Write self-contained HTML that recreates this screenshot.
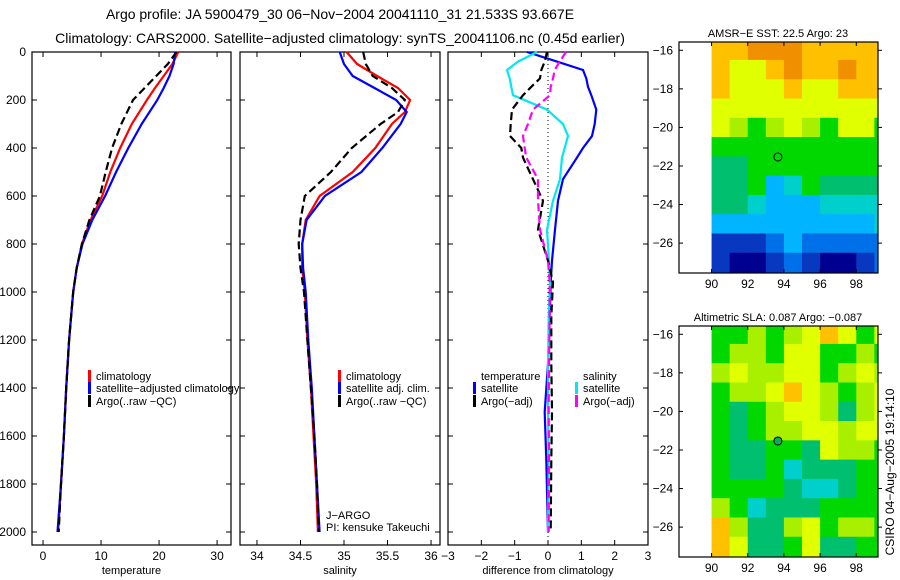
<!DOCTYPE html>
<html><head><meta charset="utf-8">
<style>
html,body{margin:0;padding:0;background:#fff;}
svg{display:block;font-family:"Liberation Sans",sans-serif;}
text{fill:#000;}
</style></head>
<body>
<svg id="fig" width="900" height="580" viewBox="0 0 900 580" xmlns="http://www.w3.org/2000/svg">
<text x="340" y="19" font-size="14" text-anchor="middle">Argo profile: JA 5900479_30 06−Nov−2004 20041110_31 21.533S 93.667E</text>
<text x="340" y="43" font-size="14" text-anchor="middle">Climatology: CARS2000. Satellite−adjusted climatology: synTS_20041106.nc (0.45d earlier)</text>
<text transform="translate(894,472) rotate(-90)" font-size="12" text-anchor="middle">CSIRO 04−Aug−2005 19:14:10</text>
</svg>
<script>
// ---------- profile data ----------
const tDepth = [0,50,100,150,200,300,400,500,600,700,800,900,1000,1200,1400,1600,1800,2000];
const tClim  = [23.3,22.3,20.8,19.3,17.9,15.3,13.3,11.6,10.2,8.2,6.7,5.8,5.2,4.5,4.0,3.6,3.1,2.6];
const tSat   = [22.8,22.5,21.8,20.8,19.7,17.0,14.7,12.6,10.7,8.5,6.8,5.8,5.2,4.5,4.0,3.6,3.1,2.5];
const tArgo  = [23.0,21.5,19.5,17.5,15.5,13.5,11.9,10.8,9.8,8.0,6.7,5.8,5.2,4.5,4.0,3.6,3.1,2.7];
const sDepth = [0,50,100,150,200,250,300,400,500,600,700,800,900,1000,1200,1400,1600,1800,2000];
const sClim  = [35.03,35.15,35.38,35.62,35.76,35.70,35.55,35.36,35.10,34.72,34.56,34.52,34.52,34.55,34.58,34.62,34.65,34.68,34.70];
const sSat   = [34.95,35.00,35.10,35.35,35.60,35.72,35.65,35.44,35.20,34.78,34.57,34.52,34.53,34.56,34.59,34.63,34.66,34.69,34.72];
const sArgo  = [35.22,35.25,35.33,35.55,35.70,35.62,35.42,35.09,34.85,34.55,34.50,34.48,34.50,34.54,34.58,34.62,34.66,34.69,34.71];
const dDepth = [0,40,75,110,145,180,240,300,350,400,440,530,620,740,870,960,1100,1300,1500,1700,2000];
const dTempSat  = [-0.63,0.27,1.05,1.15,1.2,1.3,1.45,1.4,1.32,1.05,0.87,0.45,0.3,0.21,0.12,0.08,0.05,0.0,-0.1,-0.05,0.0];
const dSalSat   = [-0.33,-0.9,-1.23,-1.15,-1.1,-1.05,-0.03,0.45,0.6,0.5,0.42,0.36,0.15,-0.03,0.03,0.06,0.02,0.0,0.0,0.02,0.0];
const dTempArgo = [-0.03,-0.1,-0.2,-0.24,-0.5,-0.75,-1.08,-1.12,-1.14,-0.8,-0.75,-0.45,-0.15,-0.3,0.0,0.15,0.1,0.1,0.12,0.1,0.08];
const dSalArgo  = [0.54,0.35,0.2,0.15,0.08,0.06,-0.45,-0.6,-0.75,-0.7,-0.65,-0.3,-0.3,-0.24,0.0,0.05,0.05,0.03,0.02,0.03,0.02];
const depthTicks = [0,200,400,600,800,1000,1200,1400,1600,1800,2000];
const tTicks = [0,10,20,30];
const sTicks = [34,34.5,35,35.5,36];
const dTicks = [-3,-2,-1,0,1,2,3];
// ---------- map data (rows -16..-27 lat, cols 90..99 lon, colour index) ----------
const mapLats = [-16,-17,-18,-19,-20,-21,-22,-23,-24,-25,-26,-27];
const mapLons = [90,91,92,93,94,95,96,97,98,99];
const sstGrid = [
[9,9,10,10,10,9,9,9,9,9],
[9,8,8,9,10,9,9,10,9,9],
[9,8,8,8,9,8,8,9,9,9],
[8,8,8,8,8,8,8,8,8,8],
[8,7,6,7,8,7,6,8,8,6],
[6,6,6,6,6,6,6,6,6,6],
[5,5,6,6,6,6,6,6,6,6],
[5,5,6,3,4,6,5,5,5,5],
[5,5,4,3,3,3,4,4,4,4],
[3,3,3,3,3,3,3,3,3,4],
[1,1,1,2,3,2,2,2,2,2],
[1,0,0,1,2,1,0,0,1,2]];
const slaGrid = [
[6,6,7,6,7,8,9,8,6,8],
[6,7,7,6,8,8,6,6,7,6],
[7,8,7,7,8,8,6,7,8,7],
[6,7,7,8,9,8,7,6,7,8],
[6,5,6,7,8,8,7,5,7,8],
[6,5,6,7,7,8,8,7,8,8],
[6,5,5,6,6,5,8,7,7,6],
[6,5,5,6,4,5,5,5,6,6],
[6,6,6,6,5,4,4,5,6,6],
[7,6,4,5,5,5,6,6,6,6],
[9,7,5,5,7,8,6,7,7,6],
[9,8,5,5,6,8,5,5,6,6]];
const mapYTicks = [-16,-18,-20,-22,-24,-26];
const mapXTicks = [90,92,94,96,98];
const argoLon = 93.667, argoLat = -21.533;
const palette = ['#000090','#0838c0','#0070e8','#00b4ff','#00d0cc','#00c070','#00d800','#a8f000','#e0ff00','#ffc000','#f09000'];

const NS='http://www.w3.org/2000/svg';
const svg=document.getElementById('fig');
function el(tag,attrs,parent){const e=document.createElementNS(NS,tag);for(const k in attrs)e.setAttribute(k,attrs[k]);(parent||svg).appendChild(e);return e;}

const yTop=52, yPerM=0.24;
function yD(d){return yTop+d*yPerM;}

function panel(name,x0,x1,vmin,vmax,ticks,label,showY){
  const g=el('g',{});
  
  
  const xs=v=>x0+(v-vmin)/(vmax-vmin)*(x1-x0);
  const r=el('rect',{x:x0,y:52,width:x1-x0,height:493,fill:'none',stroke:'#000','stroke-width':1.2},g);
  
  
  ticks.forEach(v=>{
    const x=xs(v);
    el('line',{x1:x,x2:x,y1:545,y2:540,stroke:'#000'},g);
    el('line',{x1:x,x2:x,y1:52,y2:57,stroke:'#000'},g);
    const t=el('text',{x:x,y:560,'font-size':12,'text-anchor':'middle'},g);
    t.textContent=String(v).replace('-','−');
    
    
  });
  depthTicks.forEach(d=>{
    el('line',{x1:x0,x2:x0+5,y1:yD(d),y2:yD(d),stroke:'#000'},g);
    el('line',{x1:x1,x2:x1-5,y1:yD(d),y2:yD(d),stroke:'#000'},g);
    if(showY){const t=el('text',{x:x0-6,y:yD(d)+4,'font-size':12,'text-anchor':'end'},g);t.textContent=d;
      
      }
  });
  const lt=el('text',{x:(x0+x1)/2,y:574,'font-size':11,'text-anchor':'middle'},g);
  lt.textContent=label;
  
  
  return {g,xs};
}
function line(p,depths,vals,color,dash,name){
  const pts=depths.map((d,i)=>p.xs(vals[i]).toFixed(1)+','+yD(d).toFixed(1)).join(' ');
  const a={points:pts,fill:'none',stroke:color,'stroke-width':2.2};
  if(dash)a['stroke-dasharray']=dash;
  const pl=el('polyline',a,p.g);
  
  
}
function legend(p,x,y,color,text,name){
  if(color){el('rect',{x:x,y:y-10,width:3,height:12,fill:color},p.g);}
  const t=el('text',{x:x+8,y:y,'font-size':11},p.g);t.textContent=text;
  
  
}

const p1=panel('temperature-panel',32,231,-1.9,32.4,tTicks,'temperature',true);
line(p1,tDepth,tClim,'#ff0000',null,'temp-climatology-line');
line(p1,tDepth,tSat,'#0000ff',null,'temp-satellite-line');
line(p1,tDepth,tArgo,'#000000','8,4','temp-argo-line');
legend(p1,88,380,'#ff0000','climatology','legend-entry-climatology');
legend(p1,88,392,'#0000ff','satellite−adjusted climatology','legend-entry-satellite');
legend(p1,88,405,'#000000','Argo(..raw −QC)','legend-entry-argo');

const p2=panel('salinity-panel',240,440,33.805,36.103,sTicks,'salinity',false);
line(p2,sDepth,sClim,'#ff0000',null,'sal-climatology-line');
line(p2,sDepth,sSat,'#0000ff',null,'sal-satellite-line');
line(p2,sDepth,sArgo,'#000000','8,4','sal-argo-line');
legend(p2,338,380,'#ff0000','climatology','legend-entry-climatology');
legend(p2,338,392,'#0000ff','satellite adj. clim.','legend-entry-satellite');
legend(p2,338,405,'#000000','Argo(..raw −QC)','legend-entry-argo');
const j1=el('text',{x:326,y:519,'font-size':11},p2.g);j1.textContent='J−ARGO';


const j2=el('text',{x:326,y:531,'font-size':11},p2.g);j2.textContent='PI: kensuke Takeuchi';



const p3=panel('difference-panel',448,648,-3,3,dTicks,'difference from climatology',false);
const zl=el('line',{x1:p3.xs(0),x2:p3.xs(0),y1:52,y2:545,stroke:'#000','stroke-dasharray':'1,3'},p3.g);


line(p3,dDepth,dTempSat,'#0000ff',null,'diff-temp-satellite-line');
line(p3,dDepth,dSalSat,'#00e8f0',null,'diff-sal-satellite-line');
line(p3,dDepth,dTempArgo,'#000000','8,4','diff-temp-argo-line');
line(p3,dDepth,dSalArgo,'#ff00ff','8,4','diff-sal-argo-line');
legend(p3,473,380,null,'temperature','legend-title-temperature');
legend(p3,473,392,'#0000ff','satellite','legend-entry-temp-satellite');
legend(p3,473,405,'#000000','Argo(−adj)','legend-entry-temp-argo');
legend(p3,575,380,null,'salinity','legend-title-salinity');
legend(p3,575,392,'#00e8f0','satellite','legend-entry-sal-satellite');
legend(p3,575,405,'#ff00ff','Argo(−adj)','legend-entry-sal-argo');

// ---------- maps ----------
function map(name,top,grid,title,dotFill){
  const g=el('g',{});
  
  
  const x0=679,x1=878,lonMin=88.2,lonMax=99.2,latTop=-15.57,latBot=-27.55,h=231;
  const xs=lon=>x0+(lon-lonMin)/(lonMax-lonMin)*(x1-x0);
  const ys=lat=>top+(latTop-lat)/(latTop-latBot)*h;
  const cg=el('g',{},g);
  
  
  mapLats.forEach((lat,i)=>{mapLons.forEach((lon,j)=>{
    const la0=Math.min(latTop,lat+0.5),la1=Math.max(latBot,lat-0.5);
    const lo0=lon,lo1=Math.min(lonMax,lon+1);
    const c=el('rect',{x:xs(lo0),y:ys(la0),width:xs(lo1)-xs(lo0)+0.5,height:ys(la1)-ys(la0)+0.5,fill:palette[grid[i][j]]},cg);
    
    
  });});
  const fr=el('rect',{x:x0,y:top,width:x1-x0,height:h,fill:'none',stroke:'#000','stroke-width':1.2},g);
  
  
  mapYTicks.forEach(v=>{
    const y=ys(v);
    el('line',{x1:x0,x2:x0+4,y1:y,y2:y,stroke:'#000'},g);
    el('line',{x1:x1,x2:x1+4,y1:y,y2:y,stroke:'#000'},g);
    const t=el('text',{x:x0-6,y:y+4,'font-size':12,'text-anchor':'end'},g);t.textContent=String(v).replace('-','−');
    
    
  });
  mapXTicks.forEach(v=>{
    const x=xs(v);
    el('line',{x1:x,x2:x,y1:top,y2:top+4,stroke:'#000'},g);
    el('line',{x1:x,x2:x,y1:top+h,y2:top+h-4,stroke:'#000'},g);
    const t=el('text',{x:x,y:top+h+15,'font-size':12,'text-anchor':'middle'},g);t.textContent=v;
    
    
  });
  const tt=el('text',{x:778,y:top-5,'font-size':11,'text-anchor':'middle'},g);tt.textContent=title;
  
  
  const dot=el('circle',{cx:xs(argoLon),cy:ys(argoLat),r:4,fill:dotFill,stroke:'#000','stroke-width':1},g);
  
  
}
map('sst-map',42,sstGrid,'AMSR−E SST: 22.5 Argo: 23','none');
map('sla-map',326,slaGrid,'Altimetric SLA: 0.087 Argo: −0.087','#00b060');
</script>
</body></html>
